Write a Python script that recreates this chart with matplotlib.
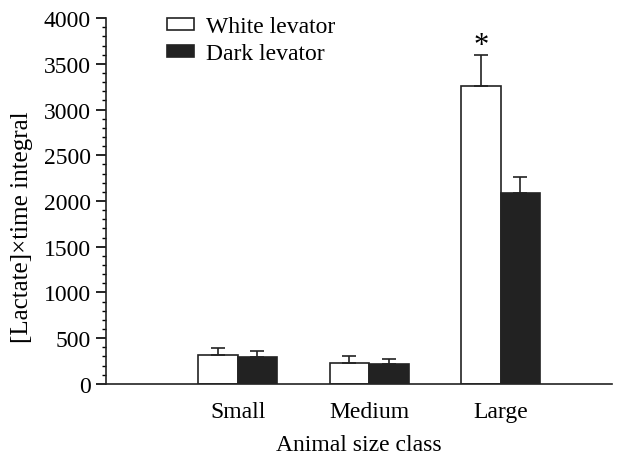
import numpy as np
import matplotlib.pyplot as plt
from matplotlib.ticker import MultipleLocator

plt.rcParams["font.family"] = ["Liberation Serif", "DejaVu Serif"]

sizes = ["Small", "Medium", "Large"]
white = [320, 233, 3253]
white_err = [70, 70, 343]
dark = [298, 222, 2084]
dark_err = [62, 51, 182]

fig = plt.figure(figsize=(6.28, 4.56), dpi=100)
ax = fig.add_axes([0.169, 0.156, 0.806, 0.802])

x = np.arange(1, len(sizes) + 1)
w = 0.3
ekw = dict(elinewidth=1.2, capthick=1.2, ecolor="#222222")
ax.bar(x - w / 2, white, w, yerr=[[0] * 3, white_err], capsize=5,
       color="white", edgecolor="#222222", linewidth=1.2, error_kw=ekw,
       label="White levator")
ax.bar(x + w / 2, dark, w, yerr=[[0] * 3, dark_err], capsize=5,
       color="#222222", edgecolor="#222222", linewidth=1.2, error_kw=ekw,
       label="Dark levator")

# significance marker above the large white bar
ax.text(x[2] - w / 2, 3700, "*", ha="center", va="center", fontsize=22)

ax.set_xlim(0, 3.85)
ax.set_ylim(0, 4000)
ax.set_xticks(x)
ax.set_xticklabels(sizes)
ax.yaxis.set_major_locator(MultipleLocator(500))
ax.yaxis.set_minor_locator(MultipleLocator(100))
ax.tick_params(axis="x", length=0, pad=12, labelsize=17)
ax.tick_params(axis="y", which="major", length=7, width=1.2, labelsize=17,
               direction="out", pad=4)
ax.tick_params(axis="y", which="minor", length=3, width=1.0, direction="out")

for s in ["top", "right"]:
    ax.spines[s].set_visible(False)
for s in ["left", "bottom"]:
    ax.spines[s].set_linewidth(1.2)
    ax.spines[s].set_color("#222222")

ax.set_xlabel("Animal size class", fontsize=17, labelpad=9)
ax.set_ylabel("[Lactate]\u00d7time integral", fontsize=18)
ax.yaxis.set_label_coords(-0.166, 0.432)
ax.yaxis.label.set_va("center")

ax.legend(loc="upper left", bbox_to_anchor=(0.12, 1.005), frameon=False,
          fontsize=17, handlelength=1.15, handleheight=0.42,
          handletextpad=0.5, labelspacing=0.25, borderpad=0,
          borderaxespad=0)

fig.savefig("out.png", dpi=100)
